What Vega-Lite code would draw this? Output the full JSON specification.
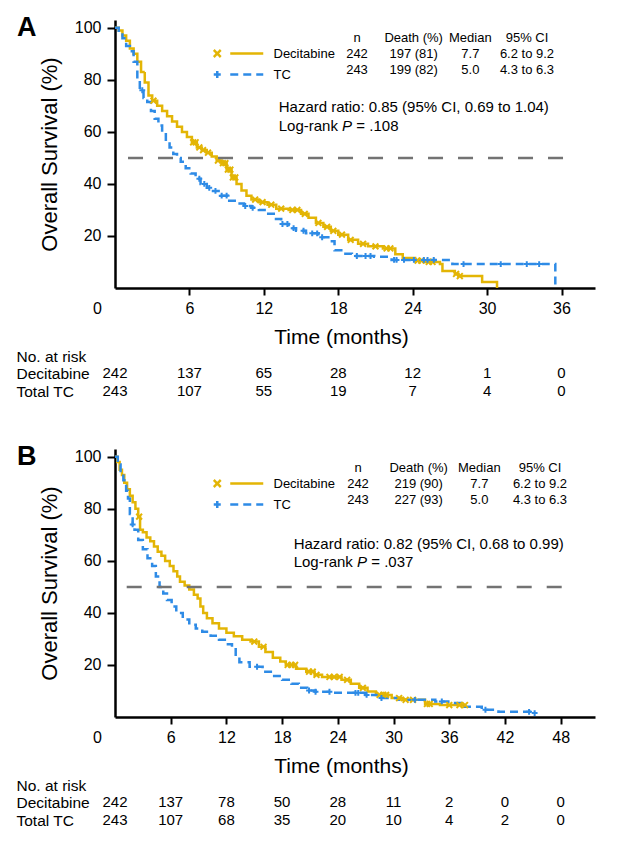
{
  "$schema": "https://vega.github.io/schema/vega-lite/v6.json",
  "padding": {"left": 16, "top": 13, "right": 31, "bottom": 14},
  "background": "white",
  "config": {
    "font": "Liberation Sans",
    "view": {"stroke": null},
    "axis": {"grid": false, "domainColor": "black", "tickColor": "black", "labelColor": "black", "titleColor": "black", "titleFontWeight": "normal", "labelFont": "Liberation Sans", "titleFont": "Liberation Sans"},
    "text": {"color": "black"}
  },
  "datasets": {
    "Acurve": [
      {"arm":"Decitabine","t":0,"s":100},{"arm":"Decitabine","t":0.3,"s":99},{"arm":"Decitabine","t":0.6,"s":97},{"arm":"Decitabine","t":0.9,"s":95},{"arm":"Decitabine","t":1.2,"s":92},{"arm":"Decitabine","t":1.5,"s":90},{"arm":"Decitabine","t":1.8,"s":87},{"arm":"Decitabine","t":2.1,"s":83},{"arm":"Decitabine","t":2.4,"s":79},{"arm":"Decitabine","t":2.7,"s":74},{"arm":"Decitabine","t":3.0,"s":72},{"arm":"Decitabine","t":3.4,"s":70},{"arm":"Decitabine","t":3.8,"s":68},{"arm":"Decitabine","t":4.2,"s":66},{"arm":"Decitabine","t":4.6,"s":64},{"arm":"Decitabine","t":5.0,"s":62},{"arm":"Decitabine","t":5.4,"s":60},{"arm":"Decitabine","t":5.8,"s":58},{"arm":"Decitabine","t":6.2,"s":56},{"arm":"Decitabine","t":6.6,"s":54},{"arm":"Decitabine","t":7.0,"s":53},{"arm":"Decitabine","t":7.4,"s":52},{"arm":"Decitabine","t":7.8,"s":50.5},{"arm":"Decitabine","t":8.2,"s":49},{"arm":"Decitabine","t":8.6,"s":48},{"arm":"Decitabine","t":9.0,"s":45.5},{"arm":"Decitabine","t":9.4,"s":42.5},{"arm":"Decitabine","t":9.8,"s":40},{"arm":"Decitabine","t":10.2,"s":37.5},{"arm":"Decitabine","t":10.6,"s":35.5},{"arm":"Decitabine","t":11.0,"s":34},{"arm":"Decitabine","t":11.6,"s":33},{"arm":"Decitabine","t":12.3,"s":32},{"arm":"Decitabine","t":13.0,"s":30.5},{"arm":"Decitabine","t":14.0,"s":30},{"arm":"Decitabine","t":15.0,"s":28.5},{"arm":"Decitabine","t":15.6,"s":27},{"arm":"Decitabine","t":16.2,"s":25},{"arm":"Decitabine","t":16.8,"s":23.5},{"arm":"Decitabine","t":17.4,"s":22},{"arm":"Decitabine","t":18.0,"s":20.5},{"arm":"Decitabine","t":18.8,"s":18.5},{"arm":"Decitabine","t":19.6,"s":17},{"arm":"Decitabine","t":20.4,"s":16},{"arm":"Decitabine","t":21.6,"s":15.2},{"arm":"Decitabine","t":22.6,"s":13},{"arm":"Decitabine","t":23.2,"s":11.5},{"arm":"Decitabine","t":24.2,"s":10.5},{"arm":"Decitabine","t":25.0,"s":10},{"arm":"Decitabine","t":26.2,"s":9.2},{"arm":"Decitabine","t":26.4,"s":6.5},{"arm":"Decitabine","t":27.4,"s":5.4},{"arm":"Decitabine","t":27.7,"s":4.6},{"arm":"Decitabine","t":29.6,"s":2.3},{"arm":"Decitabine","t":30.8,"s":0},
      {"arm":"TC","t":0,"s":100},{"arm":"TC","t":0.3,"s":98},{"arm":"TC","t":0.6,"s":96},{"arm":"TC","t":0.9,"s":93},{"arm":"TC","t":1.2,"s":91},{"arm":"TC","t":1.5,"s":87},{"arm":"TC","t":1.8,"s":81},{"arm":"TC","t":2.0,"s":76},{"arm":"TC","t":2.3,"s":73},{"arm":"TC","t":2.6,"s":71.5},{"arm":"TC","t":2.9,"s":68},{"arm":"TC","t":3.2,"s":65},{"arm":"TC","t":3.5,"s":62.5},{"arm":"TC","t":3.8,"s":60},{"arm":"TC","t":4.1,"s":57},{"arm":"TC","t":4.4,"s":54},{"arm":"TC","t":4.7,"s":51.5},{"arm":"TC","t":5.0,"s":50},{"arm":"TC","t":5.3,"s":48.5},{"arm":"TC","t":5.7,"s":46},{"arm":"TC","t":6.1,"s":44},{"arm":"TC","t":6.5,"s":42},{"arm":"TC","t":6.9,"s":40},{"arm":"TC","t":7.4,"s":38.5},{"arm":"TC","t":7.9,"s":37.3},{"arm":"TC","t":8.5,"s":35.5},{"arm":"TC","t":9.1,"s":33.5},{"arm":"TC","t":9.8,"s":32.5},{"arm":"TC","t":10.4,"s":31.5},{"arm":"TC","t":11.0,"s":30.8},{"arm":"TC","t":11.6,"s":30},{"arm":"TC","t":12.2,"s":28.5},{"arm":"TC","t":12.8,"s":26.5},{"arm":"TC","t":13.4,"s":24.6},{"arm":"TC","t":14.0,"s":23},{"arm":"TC","t":14.6,"s":22},{"arm":"TC","t":15.4,"s":21},{"arm":"TC","t":16.4,"s":19.5},{"arm":"TC","t":17.2,"s":18},{"arm":"TC","t":17.7,"s":14.5},{"arm":"TC","t":18.4,"s":13.2},{"arm":"TC","t":19.1,"s":12.3},{"arm":"TC","t":20.9,"s":12},{"arm":"TC","t":22.3,"s":10.8},{"arm":"TC","t":27.2,"s":9.2},{"arm":"TC","t":35.5,"s":0}
    ],
    "Acens": [
      {"arm":"Decitabine","t":3.1,"s":72},{"arm":"Decitabine","t":6.3,"s":56},{"arm":"Decitabine","t":6.5,"s":56},{"arm":"Decitabine","t":6.8,"s":54},{"arm":"Decitabine","t":7.1,"s":53},{"arm":"Decitabine","t":7.5,"s":52},{"arm":"Decitabine","t":8.3,"s":49},{"arm":"Decitabine","t":8.7,"s":48},{"arm":"Decitabine","t":8.9,"s":48},{"arm":"Decitabine","t":9.1,"s":45.5},{"arm":"Decitabine","t":9.3,"s":45.5},{"arm":"Decitabine","t":9.5,"s":42.5},{"arm":"Decitabine","t":9.7,"s":42.5},{"arm":"Decitabine","t":11.3,"s":34},{"arm":"Decitabine","t":11.9,"s":33},{"arm":"Decitabine","t":12.6,"s":32},{"arm":"Decitabine","t":13.4,"s":30.5},{"arm":"Decitabine","t":14.3,"s":30},{"arm":"Decitabine","t":14.7,"s":30},{"arm":"Decitabine","t":15.3,"s":28.5},{"arm":"Decitabine","t":16.4,"s":25},{"arm":"Decitabine","t":17.1,"s":23.5},{"arm":"Decitabine","t":17.6,"s":22},{"arm":"Decitabine","t":18.3,"s":20.5},{"arm":"Decitabine","t":19.0,"s":18.5},{"arm":"Decitabine","t":20.0,"s":17},{"arm":"Decitabine","t":21.0,"s":16},{"arm":"Decitabine","t":21.9,"s":15.2},{"arm":"Decitabine","t":22.2,"s":15.2},{"arm":"Decitabine","t":24.4,"s":10.5},{"arm":"Decitabine","t":24.7,"s":10.5},{"arm":"Decitabine","t":25.3,"s":10},{"arm":"Decitabine","t":25.6,"s":10},{"arm":"Decitabine","t":27.5,"s":5.4},{"arm":"Decitabine","t":27.8,"s":4.6},
      {"arm":"TC","t":2.2,"s":76},{"arm":"TC","t":6.8,"s":42},{"arm":"TC","t":7.2,"s":40},{"arm":"TC","t":7.6,"s":38.5},{"arm":"TC","t":8.1,"s":37.3},{"arm":"TC","t":8.6,"s":35.5},{"arm":"TC","t":9.0,"s":35.5},{"arm":"TC","t":10.5,"s":31.5},{"arm":"TC","t":11.1,"s":30.8},{"arm":"TC","t":13.5,"s":24.6},{"arm":"TC","t":13.9,"s":24.6},{"arm":"TC","t":14.4,"s":23},{"arm":"TC","t":15.2,"s":22},{"arm":"TC","t":15.9,"s":21},{"arm":"TC","t":16.3,"s":21},{"arm":"TC","t":16.7,"s":19.5},{"arm":"TC","t":19.5,"s":12.3},{"arm":"TC","t":20.2,"s":12.3},{"arm":"TC","t":20.6,"s":12.3},{"arm":"TC","t":22.5,"s":10.8},{"arm":"TC","t":22.7,"s":10.8},{"arm":"TC","t":23.3,"s":10.8},{"arm":"TC","t":24.1,"s":10.8},{"arm":"TC","t":24.9,"s":10.8},{"arm":"TC","t":25.2,"s":10.8},{"arm":"TC","t":25.7,"s":10.8},{"arm":"TC","t":28.1,"s":9.2},{"arm":"TC","t":31.1,"s":9.2},{"arm":"TC","t":33.2,"s":9.2},{"arm":"TC","t":34.2,"s":9.2}
    ],
    "Bcurve": [
      {"arm":"Decitabine","t":0,"s":100},{"arm":"Decitabine","t":0.25,"s":98},{"arm":"Decitabine","t":0.5,"s":95},{"arm":"Decitabine","t":0.75,"s":93},{"arm":"Decitabine","t":1.0,"s":90},{"arm":"Decitabine","t":1.3,"s":87.5},{"arm":"Decitabine","t":1.6,"s":85},{"arm":"Decitabine","t":1.9,"s":82.5},{"arm":"Decitabine","t":2.2,"s":80},{"arm":"Decitabine","t":2.5,"s":77},{"arm":"Decitabine","t":2.7,"s":72},{"arm":"Decitabine","t":3.0,"s":71},{"arm":"Decitabine","t":3.4,"s":69},{"arm":"Decitabine","t":3.8,"s":67.5},{"arm":"Decitabine","t":4.2,"s":65.5},{"arm":"Decitabine","t":4.6,"s":63.5},{"arm":"Decitabine","t":5.0,"s":62},{"arm":"Decitabine","t":5.4,"s":60},{"arm":"Decitabine","t":5.9,"s":58},{"arm":"Decitabine","t":6.3,"s":56},{"arm":"Decitabine","t":6.7,"s":54},{"arm":"Decitabine","t":7.0,"s":52},{"arm":"Decitabine","t":7.5,"s":50.5},{"arm":"Decitabine","t":8.0,"s":49},{"arm":"Decitabine","t":8.5,"s":47},{"arm":"Decitabine","t":8.9,"s":45.5},{"arm":"Decitabine","t":9.2,"s":42.5},{"arm":"Decitabine","t":9.5,"s":40},{"arm":"Decitabine","t":9.9,"s":38},{"arm":"Decitabine","t":10.5,"s":36},{"arm":"Decitabine","t":11.2,"s":34},{"arm":"Decitabine","t":12.0,"s":32.4},{"arm":"Decitabine","t":12.8,"s":31},{"arm":"Decitabine","t":13.7,"s":29.7},{"arm":"Decitabine","t":14.6,"s":29},{"arm":"Decitabine","t":15.5,"s":27},{"arm":"Decitabine","t":16.2,"s":25},{"arm":"Decitabine","t":17.0,"s":22.8},{"arm":"Decitabine","t":17.8,"s":21.3},{"arm":"Decitabine","t":18.4,"s":20},{"arm":"Decitabine","t":19.5,"s":18.5},{"arm":"Decitabine","t":20.6,"s":17.4},{"arm":"Decitabine","t":21.5,"s":16.2},{"arm":"Decitabine","t":22.3,"s":15.4},{"arm":"Decitabine","t":24.4,"s":14.3},{"arm":"Decitabine","t":25.4,"s":12.8},{"arm":"Decitabine","t":26.3,"s":11.2},{"arm":"Decitabine","t":27.2,"s":9.8},{"arm":"Decitabine","t":28.1,"s":8.5},{"arm":"Decitabine","t":29.8,"s":7.3},{"arm":"Decitabine","t":31.0,"s":6.6},{"arm":"Decitabine","t":33.4,"s":5.0},{"arm":"Decitabine","t":35.0,"s":4.6},{"arm":"Decitabine","t":37.7,"s":4.6},
      {"arm":"TC","t":0,"s":100},{"arm":"TC","t":0.3,"s":97},{"arm":"TC","t":0.6,"s":94},{"arm":"TC","t":0.9,"s":91},{"arm":"TC","t":1.2,"s":87},{"arm":"TC","t":1.4,"s":84},{"arm":"TC","t":1.6,"s":78},{"arm":"TC","t":1.9,"s":74},{"arm":"TC","t":2.1,"s":72},{"arm":"TC","t":2.5,"s":68},{"arm":"TC","t":3.0,"s":64.5},{"arm":"TC","t":3.5,"s":61},{"arm":"TC","t":4.0,"s":58},{"arm":"TC","t":4.4,"s":54},{"arm":"TC","t":4.8,"s":50},{"arm":"TC","t":5.2,"s":47.5},{"arm":"TC","t":5.6,"s":45},{"arm":"TC","t":6.1,"s":42.5},{"arm":"TC","t":6.6,"s":40},{"arm":"TC","t":7.3,"s":37.5},{"arm":"TC","t":8.0,"s":35.5},{"arm":"TC","t":8.7,"s":34},{"arm":"TC","t":9.4,"s":32.8},{"arm":"TC","t":10.3,"s":31.2},{"arm":"TC","t":11.2,"s":29.7},{"arm":"TC","t":12.0,"s":28},{"arm":"TC","t":12.6,"s":26.6},{"arm":"TC","t":13.0,"s":23},{"arm":"TC","t":13.4,"s":21},{"arm":"TC","t":14.5,"s":19.3},{"arm":"TC","t":15.9,"s":17.4},{"arm":"TC","t":17.0,"s":15.8},{"arm":"TC","t":18.0,"s":14.3},{"arm":"TC","t":19.0,"s":12.8},{"arm":"TC","t":19.8,"s":11.2},{"arm":"TC","t":20.7,"s":10.2},{"arm":"TC","t":21.6,"s":9.7},{"arm":"TC","t":23.4,"s":9.3},{"arm":"TC","t":27.0,"s":8.5},{"arm":"TC","t":28.7,"s":7.3},{"arm":"TC","t":30.5,"s":6.6},{"arm":"TC","t":34.5,"s":6.0},{"arm":"TC","t":35.9,"s":5.4},{"arm":"TC","t":37.3,"s":3.9},{"arm":"TC","t":39.5,"s":2.8},{"arm":"TC","t":41.3,"s":2.0},{"arm":"TC","t":45.2,"s":1.5}
    ],
    "Bcens": [
      {"arm":"Decitabine","t":2.6,"s":77},{"arm":"Decitabine","t":15.0,"s":29},{"arm":"Decitabine","t":16.0,"s":27},{"arm":"Decitabine","t":18.6,"s":20},{"arm":"Decitabine","t":19.0,"s":20},{"arm":"Decitabine","t":19.4,"s":20},{"arm":"Decitabine","t":20.9,"s":17.4},{"arm":"Decitabine","t":21.3,"s":17.4},{"arm":"Decitabine","t":21.7,"s":16.2},{"arm":"Decitabine","t":23.1,"s":15.4},{"arm":"Decitabine","t":23.6,"s":15.4},{"arm":"Decitabine","t":24.2,"s":15.4},{"arm":"Decitabine","t":25.0,"s":14.3},{"arm":"Decitabine","t":26.7,"s":11.2},{"arm":"Decitabine","t":28.5,"s":8.5},{"arm":"Decitabine","t":28.9,"s":8.5},{"arm":"Decitabine","t":29.2,"s":8.5},{"arm":"Decitabine","t":30.6,"s":7.3},{"arm":"Decitabine","t":31.3,"s":6.6},{"arm":"Decitabine","t":32.1,"s":6.6},{"arm":"Decitabine","t":33.6,"s":5.0},{"arm":"Decitabine","t":33.9,"s":5.0},{"arm":"Decitabine","t":36.0,"s":4.6},{"arm":"Decitabine","t":37.1,"s":4.6},{"arm":"Decitabine","t":37.7,"s":4.6},
      {"arm":"TC","t":1.9,"s":74},{"arm":"TC","t":15.3,"s":19.3},{"arm":"TC","t":20.9,"s":10.2},{"arm":"TC","t":21.6,"s":9.7},{"arm":"TC","t":23.1,"s":9.7},{"arm":"TC","t":25.9,"s":9.3},{"arm":"TC","t":26.2,"s":9.3},{"arm":"TC","t":27.1,"s":8.5},{"arm":"TC","t":28.7,"s":7.3},{"arm":"TC","t":32.3,"s":6.6},{"arm":"TC","t":35.2,"s":6.0},{"arm":"TC","t":39.9,"s":2.8},{"arm":"TC","t":44.6,"s":2.0},{"arm":"TC","t":45.2,"s":1.5}
    ],
    "Atable": [
      {"row":"head","col":"n","v":"n"},{"row":"head","col":"death","v":"Death (%)"},{"row":"head","col":"median","v":"Median"},{"row":"head","col":"ci","v":"95% CI"},
      {"row":"Decitabine","col":"n","v":"242"},{"row":"Decitabine","col":"death","v":"197 (81)"},{"row":"Decitabine","col":"median","v":"7.7"},{"row":"Decitabine","col":"ci","v":"6.2 to 9.2"},
      {"row":"TC","col":"n","v":"243"},{"row":"TC","col":"death","v":"199 (82)"},{"row":"TC","col":"median","v":"5.0"},{"row":"TC","col":"ci","v":"4.3 to 6.3"}
    ],
    "Btable": [
      {"row":"head","col":"n","v":"n"},{"row":"head","col":"death","v":"Death (%)"},{"row":"head","col":"median","v":"Median"},{"row":"head","col":"ci","v":"95% CI"},
      {"row":"Decitabine","col":"n","v":"242"},{"row":"Decitabine","col":"death","v":"219 (90)"},{"row":"Decitabine","col":"median","v":"7.7"},{"row":"Decitabine","col":"ci","v":"6.2 to 9.2"},
      {"row":"TC","col":"n","v":"243"},{"row":"TC","col":"death","v":"227 (93)"},{"row":"TC","col":"median","v":"5.0"},{"row":"TC","col":"ci","v":"4.3 to 6.3"}
    ],
    "Arisk": [
      {"arm":"Decitabine","t":0,"n":242},{"arm":"Decitabine","t":6,"n":137},{"arm":"Decitabine","t":12,"n":65},{"arm":"Decitabine","t":18,"n":28},{"arm":"Decitabine","t":24,"n":12},{"arm":"Decitabine","t":30,"n":1},{"arm":"Decitabine","t":36,"n":0},
      {"arm":"Total TC","t":0,"n":243},{"arm":"Total TC","t":6,"n":107},{"arm":"Total TC","t":12,"n":55},{"arm":"Total TC","t":18,"n":19},{"arm":"Total TC","t":24,"n":7},{"arm":"Total TC","t":30,"n":4},{"arm":"Total TC","t":36,"n":0}
    ],
    "Brisk": [
      {"arm":"Decitabine","t":0,"n":242},{"arm":"Decitabine","t":6,"n":137},{"arm":"Decitabine","t":12,"n":78},{"arm":"Decitabine","t":18,"n":50},{"arm":"Decitabine","t":24,"n":28},{"arm":"Decitabine","t":30,"n":11},{"arm":"Decitabine","t":36,"n":2},{"arm":"Decitabine","t":42,"n":0},{"arm":"Decitabine","t":48,"n":0},
      {"arm":"Total TC","t":0,"n":243},{"arm":"Total TC","t":6,"n":107},{"arm":"Total TC","t":12,"n":68},{"arm":"Total TC","t":18,"n":35},{"arm":"Total TC","t":24,"n":20},{"arm":"Total TC","t":30,"n":10},{"arm":"Total TC","t":36,"n":4},{"arm":"Total TC","t":42,"n":2},{"arm":"Total TC","t":48,"n":0}
    ]
  },
  "bounds": "flush",
  "spacing": 40,
  "resolve": {
    "scale": {"color": "independent", "strokeDash": "independent"},
    "legend": {"color": "independent", "strokeDash": "independent"}
  },
  "vconcat": [
    {
      "width": 480, "height": 268,
      "title": {"text": "A", "anchor": "start", "frame": "group", "fontSize": 27, "fontWeight": "bold", "baseline": "alphabetic", "dx": -98, "dy": 43, "offset": 0, "color": "black"},
      "resolve": {"scale": {"x": "independent", "y": "independent"}},
      "layer": [
        {
          "layer": [
            {
              "data": {"name": "Acurve"},
              "mark": {"type": "line", "interpolate": "step-after", "strokeWidth": 2.5},
              "encoding": {
                "x": {"field": "t", "type": "quantitative", "scale": {"domain": [0, 38.7], "nice": false},
                  "axis": {"values": [0, 6, 12, 18, 24, 30, 36], "title": "Time (months)", "titleFontSize": 21, "titleX": 226, "titleY": 55, "titleBaseline": "alphabetic", "labelFontSize": 16, "labelPadding": 5, "tickSize": 7, "tickWidth": 2, "domainWidth": 2.5, "labelFlush": false, "labelOverlap": false, "labelBound": false,
                    "labelOffset": {"condition": {"test": "datum.value === 0", "value": -18}, "value": 0},
                    "tickOpacity": {"condition": {"test": "datum.value === 0", "value": 0}, "value": 1}}},
                "y": {"field": "s", "type": "quantitative", "scale": {"domain": [0, 103], "nice": false},
                  "axis": {"values": [20, 40, 60, 80, 100], "title": "Overall Survival (%)", "titleFontSize": 22, "titleX": -59, "titleBaseline": "alphabetic", "labelFontSize": 16, "labelPadding": 6, "tickSize": 8, "tickWidth": 2, "domainWidth": 2.5}},
                "color": {"field": "arm", "type": "nominal", "scale": {"domain": ["Decitabine", "TC"], "range": ["#E3B505", "#2E8BE6"]},
                  "legend": {"title": null, "orient": "none", "legendX": 139.5, "legendY": 27, "padding": 0, "labelFont": "Liberation Sans", "labelFontSize": 13, "labelColor": "black", "labelOffset": 6, "symbolSize": 100, "symbolStrokeWidth": 2.5, "rowPadding": 4, "labelLimit": 0,
                    "encode": {"symbols": {"update": {"shape": {"signal": "datum.value === 'TC' ? 'M-9.45,0L-8.05,0M-8.75,-0.7L-8.75,0.7M-6.15,0L0.45,0' : 'M-9.45,-0.7L-8.05,0.7M-9.45,0.7L-8.05,-0.7M-6.15,0L0.45,0'"}, "fill": {"value": "transparent"}}}}}},
                "strokeDash": {"field": "arm", "type": "nominal", "scale": {"domain": ["Decitabine", "TC"], "range": [[1, 0], [8, 5]]},
                  "legend": {"title": null, "orient": "none", "legendX": 139.5, "legendY": 27, "padding": 0, "labelFont": "Liberation Sans", "labelFontSize": 13, "labelColor": "black", "labelOffset": 6, "symbolSize": 100, "symbolStrokeWidth": 2.5, "rowPadding": 4, "labelLimit": 0,
                    "encode": {"symbols": {"update": {"shape": {"signal": "datum.value === 'TC' ? 'M-9.45,0L-8.05,0M-8.75,-0.7L-8.75,0.7M-6.15,0L0.45,0' : 'M-9.45,-0.7L-8.05,0.7M-9.45,0.7L-8.05,-0.7M-6.15,0L0.45,0'"}, "fill": {"value": "transparent"}}}}}}
              }
            },
            {
              "data": {"name": "Acens"},
              "transform": [{"filter": "datum.arm === 'Decitabine'"}],
              "mark": {"type": "point", "filled": false, "strokeWidth": 2, "size": 34, "opacity": 1, "shape": "M-1,-1L1,1M-1,1L1,-1"},
              "encoding": {
                "x": {"field": "t", "type": "quantitative"},
                "y": {"field": "s", "type": "quantitative"},
                "color": {"field": "arm", "type": "nominal"}
              }
            },
            {
              "data": {"name": "Acens"},
              "transform": [{"filter": "datum.arm === 'TC'"}],
              "mark": {"type": "point", "filled": false, "strokeWidth": 2, "size": 34, "opacity": 1, "shape": "M-1,0L1,0M0,-1L0,1"},
              "encoding": {
                "x": {"field": "t", "type": "quantitative"},
                "y": {"field": "s", "type": "quantitative"},
                "color": {"field": "arm", "type": "nominal"}
              }
            },
            {
              "data": {"values": [{}]},
              "mark": {"type": "rule", "color": "#737373", "strokeWidth": 2.5, "strokeDash": [15, 15]},
              "encoding": {"x": {"datum": 1.05}, "x2": {"datum": 36.5}, "y": {"datum": 50}}
            },
            {
              "data": {"values": [{}]},
              "mark": {"type": "text", "align": "left", "baseline": "middle", "fontSize": 15},
              "encoding": {"x": {"datum": 13.2}, "y": {"datum": 69.6}, "text": {"value": "Hazard ratio: 0.85 (95% CI, 0.69 to 1.04)"}}
            },
            {
              "data": {"values": [{}]},
              "mark": {"type": "text", "align": "left", "baseline": "middle", "fontSize": 15},
              "encoding": {"x": {"datum": 13.2}, "y": {"datum": 62.3}, "text": {"value": "Log-rank"}}
            },
            {
              "data": {"values": [{}]},
              "mark": {"type": "text", "align": "left", "baseline": "middle", "fontSize": 15, "fontStyle": "italic"},
              "encoding": {"x": {"datum": 18.31}, "y": {"datum": 62.3}, "text": {"value": "P"}}
            },
            {
              "data": {"values": [{}]},
              "mark": {"type": "text", "align": "left", "baseline": "middle", "fontSize": 15},
              "encoding": {"x": {"datum": 19.46}, "y": {"datum": 62.3}, "text": {"value": "= .108"}}
            }
          ]
        },
        {
          "data": {"name": "Atable"},
          "mark": {"type": "text", "align": "center", "baseline": "middle", "fontSize": 13},
          "encoding": {
            "x": {"field": "col", "type": "nominal", "scale": {"type": "point", "padding": 0, "domain": ["n", "death", "median", "ci"], "range": [242, 412]}, "axis": null},
            "y": {"field": "row", "type": "nominal", "scale": {"type": "point", "padding": 0, "domain": ["head", "Decitabine", "TC"], "range": [18, 50]}, "axis": null},
            "text": {"field": "v"}
          }
        }
      ]
    },
    {
      "width": 480, "height": 81,
      "data": {"name": "Arisk"},
      "mark": {"type": "text", "align": "center", "baseline": "middle", "fontSize": 15},
      "encoding": {
        "x": {"field": "t", "type": "quantitative", "scale": {"domain": [0, 38.7], "nice": false}, "axis": null},
        "y": {"field": "arm", "type": "nominal", "scale": {"type": "point", "padding": 0, "domain": ["Decitabine", "Total TC"], "range": [45, 63]},
          "axis": {"title": "No. at risk", "titleAngle": 0, "titleAlign": "left", "titleBaseline": "middle", "titleX": -99, "titleY": 28, "titleFontSize": 15.5, "labelAlign": "left", "labelPadding": 99, "ticks": false, "tickSize": 0, "domain": false, "labelFontSize": 15.5, "labelBaseline": "middle"}},
        "text": {"field": "n"}
      }
    },
    {
      "width": 480, "height": 268,
      "title": {"text": "B", "anchor": "start", "frame": "group", "fontSize": 27, "fontWeight": "bold", "baseline": "alphabetic", "dx": -98, "dy": 43, "offset": 0, "color": "black"},
      "resolve": {"scale": {"x": "independent", "y": "independent"}},
      "layer": [
        {
          "layer": [
            {
              "data": {"name": "Bcurve"},
              "mark": {"type": "line", "interpolate": "step-after", "strokeWidth": 2.5},
              "encoding": {
                "x": {"field": "t", "type": "quantitative", "scale": {"domain": [0, 51.7], "nice": false},
                  "axis": {"values": [0, 6, 12, 18, 24, 30, 36, 42, 48], "title": "Time (months)", "titleFontSize": 21, "titleX": 226, "titleY": 55, "titleBaseline": "alphabetic", "labelFontSize": 16, "labelPadding": 5, "tickSize": 7, "tickWidth": 2, "domainWidth": 2.5, "labelFlush": false, "labelOverlap": false, "labelBound": false,
                    "labelOffset": {"condition": {"test": "datum.value === 0", "value": -18}, "value": 0},
                    "tickOpacity": {"condition": {"test": "datum.value === 0", "value": 0}, "value": 1}}},
                "y": {"field": "s", "type": "quantitative", "scale": {"domain": [0, 103], "nice": false},
                  "axis": {"values": [20, 40, 60, 80, 100], "title": "Overall Survival (%)", "titleFontSize": 22, "titleX": -59, "titleBaseline": "alphabetic", "labelFontSize": 16, "labelPadding": 6, "tickSize": 8, "tickWidth": 2, "domainWidth": 2.5}},
                "color": {"field": "arm", "type": "nominal", "scale": {"domain": ["Decitabine", "TC"], "range": ["#E3B505", "#2E8BE6"]},
                  "legend": {"title": null, "orient": "none", "legendX": 139.5, "legendY": 28, "padding": 0, "labelFont": "Liberation Sans", "labelFontSize": 13, "labelColor": "black", "labelOffset": 6, "symbolSize": 100, "symbolStrokeWidth": 2.5, "rowPadding": 4, "labelLimit": 0,
                    "encode": {"symbols": {"update": {"shape": {"signal": "datum.value === 'TC' ? 'M-9.45,0L-8.05,0M-8.75,-0.7L-8.75,0.7M-6.15,0L0.45,0' : 'M-9.45,-0.7L-8.05,0.7M-9.45,0.7L-8.05,-0.7M-6.15,0L0.45,0'"}, "fill": {"value": "transparent"}}}}}},
                "strokeDash": {"field": "arm", "type": "nominal", "scale": {"domain": ["Decitabine", "TC"], "range": [[1, 0], [8, 5]]},
                  "legend": {"title": null, "orient": "none", "legendX": 139.5, "legendY": 28, "padding": 0, "labelFont": "Liberation Sans", "labelFontSize": 13, "labelColor": "black", "labelOffset": 6, "symbolSize": 100, "symbolStrokeWidth": 2.5, "rowPadding": 4, "labelLimit": 0,
                    "encode": {"symbols": {"update": {"shape": {"signal": "datum.value === 'TC' ? 'M-9.45,0L-8.05,0M-8.75,-0.7L-8.75,0.7M-6.15,0L0.45,0' : 'M-9.45,-0.7L-8.05,0.7M-9.45,0.7L-8.05,-0.7M-6.15,0L0.45,0'"}, "fill": {"value": "transparent"}}}}}}
              }
            },
            {
              "data": {"name": "Bcens"},
              "transform": [{"filter": "datum.arm === 'Decitabine'"}],
              "mark": {"type": "point", "filled": false, "strokeWidth": 2, "size": 34, "opacity": 1, "shape": "M-1,-1L1,1M-1,1L1,-1"},
              "encoding": {
                "x": {"field": "t", "type": "quantitative"},
                "y": {"field": "s", "type": "quantitative"},
                "color": {"field": "arm", "type": "nominal"}
              }
            },
            {
              "data": {"name": "Bcens"},
              "transform": [{"filter": "datum.arm === 'TC'"}],
              "mark": {"type": "point", "filled": false, "strokeWidth": 2, "size": 34, "opacity": 1, "shape": "M-1,0L1,0M0,-1L0,1"},
              "encoding": {
                "x": {"field": "t", "type": "quantitative"},
                "y": {"field": "s", "type": "quantitative"},
                "color": {"field": "arm", "type": "nominal"}
              }
            },
            {
              "data": {"values": [{}]},
              "mark": {"type": "rule", "color": "#737373", "strokeWidth": 2.5, "strokeDash": [15, 15]},
              "encoding": {"x": {"datum": 1.26}, "x2": {"datum": 48.4}, "y": {"datum": 50}}
            },
            {
              "data": {"values": [{}]},
              "mark": {"type": "text", "align": "left", "baseline": "middle", "fontSize": 15},
              "encoding": {"x": {"datum": 19.24}, "y": {"datum": 66.5}, "text": {"value": "Hazard ratio: 0.82 (95% CI, 0.68 to 0.99)"}}
            },
            {
              "data": {"values": [{}]},
              "mark": {"type": "text", "align": "left", "baseline": "middle", "fontSize": 15},
              "encoding": {"x": {"datum": 19.24}, "y": {"datum": 59.6}, "text": {"value": "Log-rank"}}
            },
            {
              "data": {"values": [{}]},
              "mark": {"type": "text", "align": "left", "baseline": "middle", "fontSize": 15, "fontStyle": "italic"},
              "encoding": {"x": {"datum": 26.07}, "y": {"datum": 59.6}, "text": {"value": "P"}}
            },
            {
              "data": {"values": [{}]},
              "mark": {"type": "text", "align": "left", "baseline": "middle", "fontSize": 15},
              "encoding": {"x": {"datum": 27.6}, "y": {"datum": 59.6}, "text": {"value": "= .037"}}
            }
          ]
        },
        {
          "data": {"name": "Btable"},
          "mark": {"type": "text", "align": "center", "baseline": "middle", "fontSize": 13},
          "encoding": {
            "x": {"field": "col", "type": "nominal", "scale": {"type": "point", "padding": 0, "domain": ["n", "death", "median", "ci"], "range": [243, 425]}, "axis": null},
            "y": {"field": "row", "type": "nominal", "scale": {"type": "point", "padding": 0, "domain": ["head", "Decitabine", "TC"], "range": [19, 51]}, "axis": null},
            "text": {"field": "v"}
          }
        }
      ]
    },
    {
      "width": 480, "height": 81,
      "data": {"name": "Brisk"},
      "mark": {"type": "text", "align": "center", "baseline": "middle", "fontSize": 15},
      "encoding": {
        "x": {"field": "t", "type": "quantitative", "scale": {"domain": [0, 51.7], "nice": false}, "axis": null},
        "y": {"field": "arm", "type": "nominal", "scale": {"type": "point", "padding": 0, "domain": ["Decitabine", "Total TC"], "range": [45, 63]},
          "axis": {"title": "No. at risk", "titleAngle": 0, "titleAlign": "left", "titleBaseline": "middle", "titleX": -99, "titleY": 28, "titleFontSize": 15.5, "labelAlign": "left", "labelPadding": 99, "ticks": false, "tickSize": 0, "domain": false, "labelFontSize": 15.5, "labelBaseline": "middle"}},
        "text": {"field": "n"}
      }
    }
  ]
}
